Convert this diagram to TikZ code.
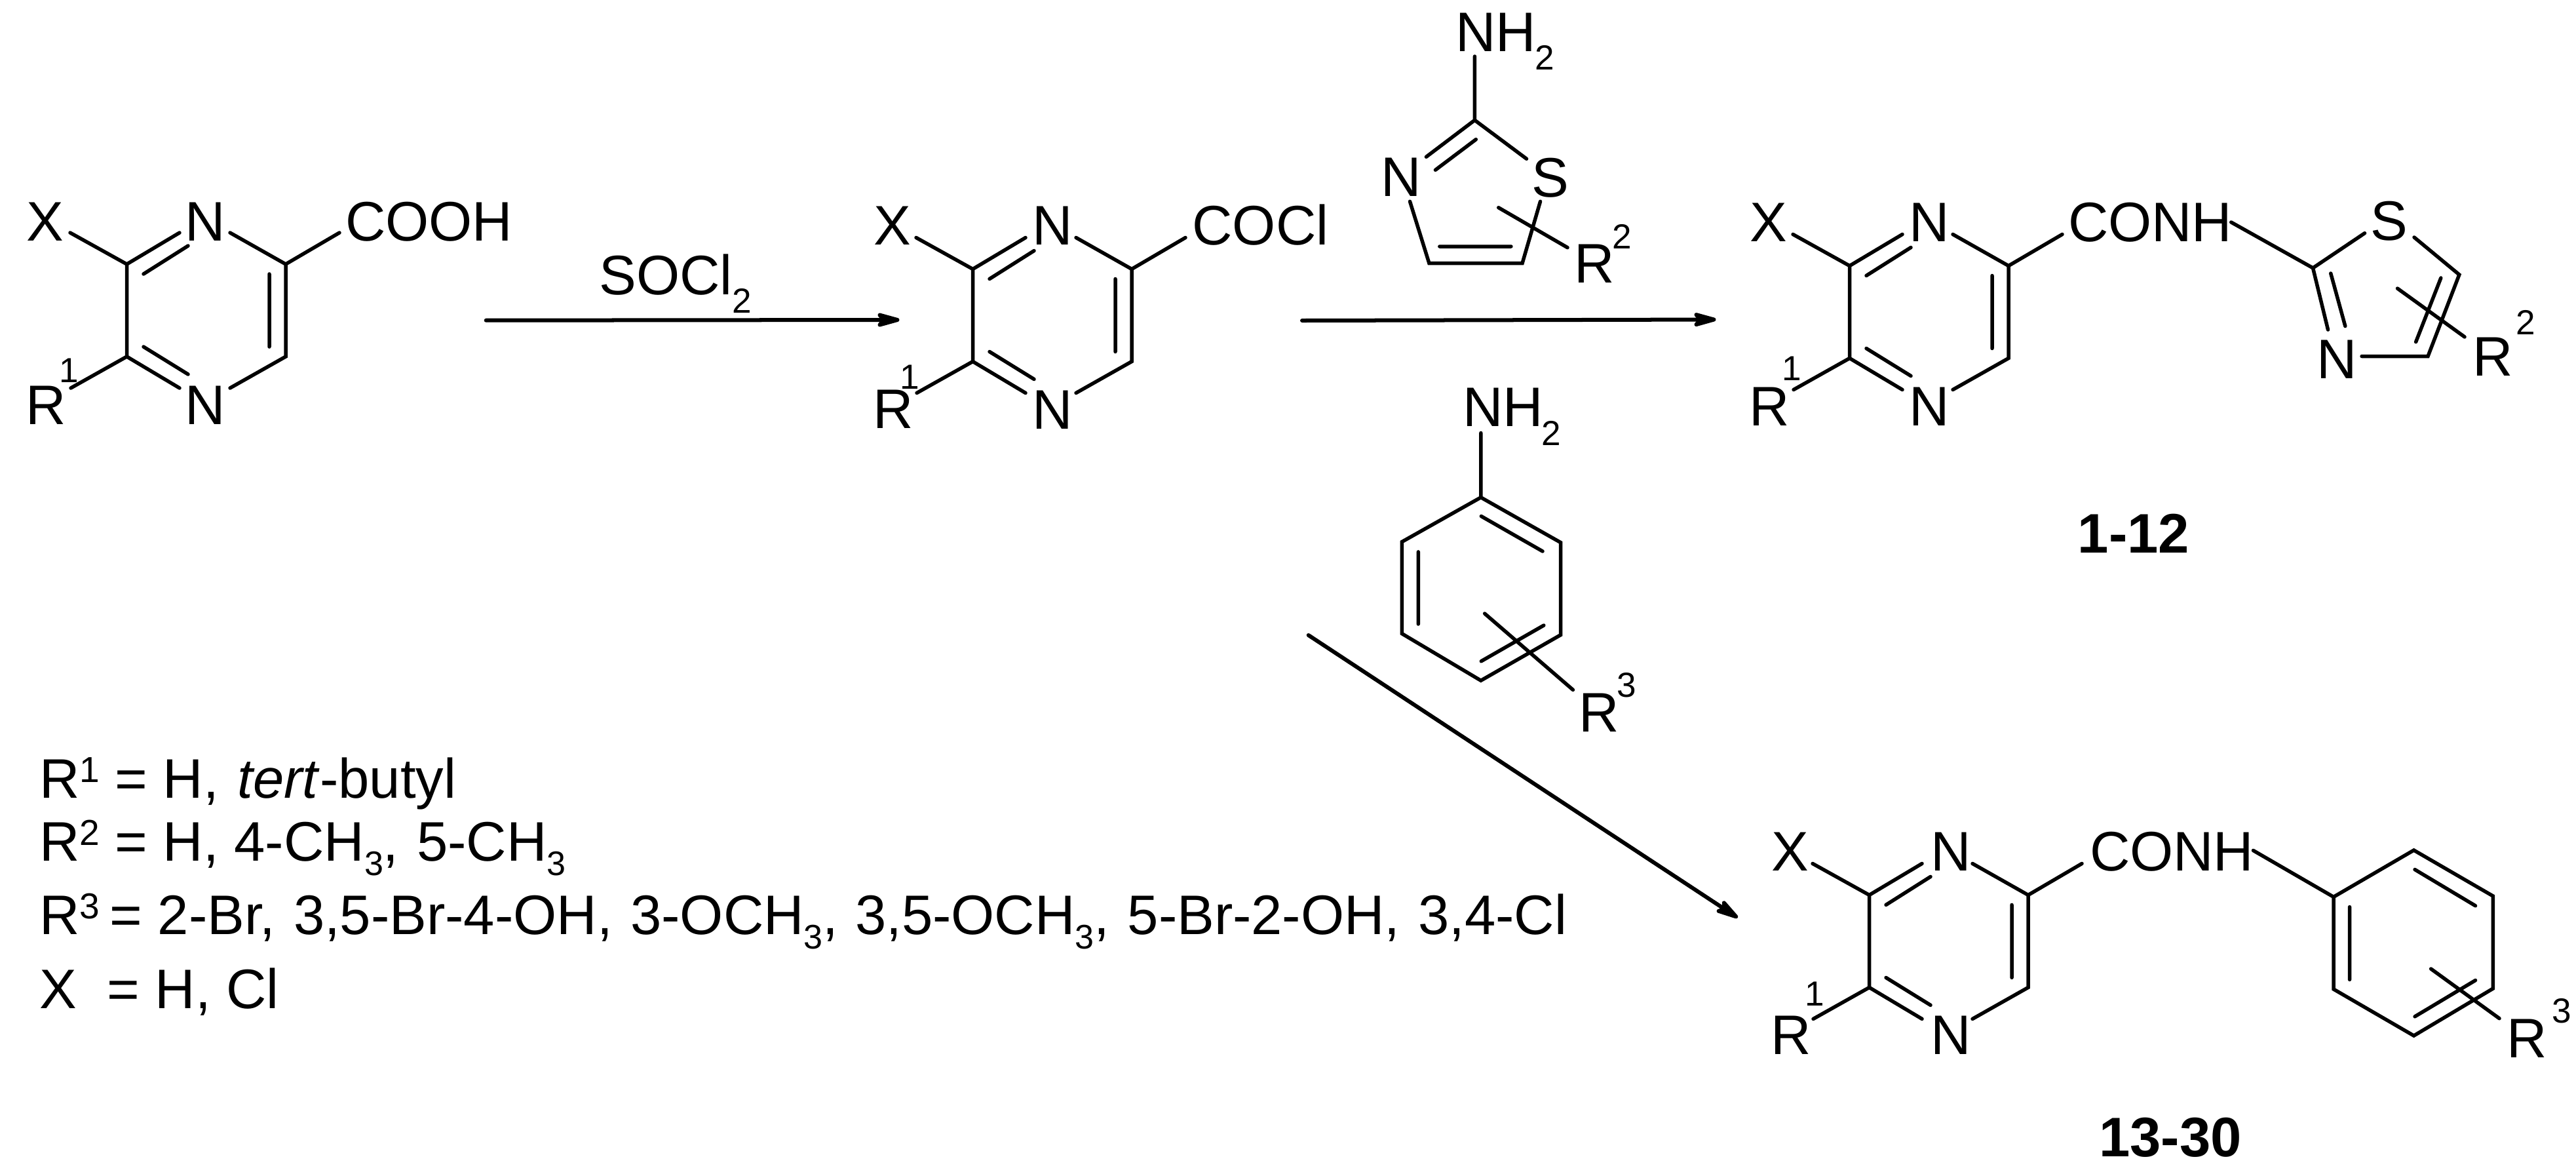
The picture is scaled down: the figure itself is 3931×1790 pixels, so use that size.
\documentclass[tikz,border=0pt]{standalone}
\usepackage{fontspec}
\setmainfont{Liberation Sans}
\usetikzlibrary{arrows.meta}
% sizes: 1 reference pixel = 0.01cm
\newcommand{\fmain}{\fontsize{24.18pt}{29pt}\selectfont}
\newcommand{\fsm}{\fontsize{15.1pt}{18pt}\selectfont}
\newcommand{\flegsup}{\fontsize{15.65pt}{18pt}\selectfont}
\newcommand{\flegsub}{\fontsize{14.8pt}{18pt}\selectfont}
\newcommand{\lsup}[1]{\raisebox{0.24cm}{\flegsup #1}}
\newcommand{\lsub}[1]{\raisebox{-0.22cm}{\flegsub #1}}
\tikzset{
  bond/.style={line width=0.055cm,line cap=round,line join=miter,black},
  rxn/.style={line width=0.06cm,line cap=round,black,-{Stealth[length=0.46cm,width=0.25cm,inset=0.1cm,round]}},
  lab/.style={inner sep=0pt,outer sep=0pt,font=\fmain,anchor=base},
  labw/.style={inner sep=0pt,outer sep=0pt,font=\fmain,anchor=base west},
  small/.style={inner sep=0pt,outer sep=0pt,font=\fsm,anchor=base west},
  cmpd/.style={inner sep=0pt,outer sep=0pt,font=\fmain\bfseries,anchor=base},
  legend/.style={inner sep=0pt,outer sep=0pt,font=\fmain,anchor=base west}
}
% pyrazine core: #1 name prefix, #2 shift x, #3 shift y
\newcommand{\pyrazinecore}[3]{%
  \begin{scope}[shift={(#2,#3)}]
    \coordinate (#1a) at (193.5,403);
    \coordinate (#1b) at (193.5,544);
    \coordinate (#1c) at (436,403);
    \coordinate (#1d) at (436,544);
    \coordinate (#1xe) at (107,355);
    \coordinate (#1re) at (108,592);
    \coordinate (#1nt) at (274,355);
    \coordinate (#1nb) at (274,592);
    \coordinate (#1mt) at (351,355);
    \coordinate (#1mb) at (351,592);
    \coordinate (#1se) at (518,355);
    \coordinate (#1i1) at (219,418);
    \coordinate (#1i2) at (287,375);
    \coordinate (#1i3) at (219,529);
    \coordinate (#1i4) at (287,571);
    \coordinate (#1i5) at (411,418);
    \coordinate (#1i6) at (411,529);
    \draw[bond] (#1xe)--(#1a)--(#1nt) (#1a)--(#1b)--(#1nb) (#1b)--(#1re)
      (#1mt)--(#1c)--(#1se) (#1c)--(#1d)--(#1mb)
      (#1i1)--(#1i2) (#1i3)--(#1i4) (#1i5)--(#1i6);
  \end{scope}}
\begin{document}
\begin{tikzpicture}[x=0.01cm,y=-0.01cm]
\fill[white] (0,0) rectangle (3931,1790);
\useasboundingbox (0,0) rectangle (3931,1790);

% ---------- compound A: acid
\pyrazinecore{A}{0}{0}
\node[lab] (Ax) at (69,367) {X};
\node[lab] (An) at (313,367) {N};
\node[lab] (Am) at (313,647) {N};
\node[labw] (Ar) at (39.5,647) {R};
\node[small] (Ar1) at (90,583) {1};
\node[labw] (Acooh) at (527,367) {COOH};

% ---------- compound B: acid chloride
\pyrazinecore{B}{1291}{7.5}
\node[lab] (Bx) at (1362,373) {X};
\node[lab] (Bn) at (1606.5,373) {N};
\node[lab] (Bm) at (1606.5,654) {N};
\node[labw] (Br) at (1332.5,653) {R};
\node[small] (Br1) at (1373,593) {1};
\node[labw] (Bcocl) at (1819.5,373) {COCl};

% ---------- compound C: thiazole amides 1-12
\pyrazinecore{C}{2629}{2.5}
\node[lab] (Cx) at (2698.5,368) {X};
\node[lab] (Cn) at (2944,368) {N};
\node[lab] (Cm) at (2944,649) {N};
\node[labw] (Cr) at (2669.5,649) {R};
\node[small] (Cr1) at (2719,580) {1};
\node[labw] (Cconh) at (3156,368) {CONH};
\node[lab] (Cs) at (3646,366) {S};
\node[lab] (Cn2) at (3566,577.5) {N};
\node[labw] (Cr2) at (3773.5,573.5) {R};
\node[small] (Cr22) at (3839.5,510) {2};
\node[cmpd] (Clabel) at (3256,843.7) {1-12};
\coordinate (C1) at (3404.7,339);
\coordinate (C2) at (3529.5,408.8);
\coordinate (C3) at (3608.5,355.7);
\coordinate (C4) at (3684,362);
\coordinate (C5) at (3752.8,419);
\coordinate (C6) at (3705,543.5);
\coordinate (C7) at (3604,543.5);
\coordinate (C8) at (3552.5,503);
\coordinate (C9) at (3556.7,417);
\coordinate (C10) at (3578.8,497.5);
\coordinate (C11) at (3724.8,424);
\coordinate (C12) at (3686.6,521.6);
\coordinate (C13) at (3658.5,440);
\coordinate (C14) at (3761,514);
\draw[bond] (C1)--(C2)--(C3) (C2)--(C8) (C4)--(C5)--(C6)--(C7)
  (C9)--(C10) (C11)--(C12) (C13)--(C14);

% ---------- compound D: anilides 13-30
\pyrazinecore{D}{2659}{962.4}
\node[lab] (Dx) at (2731.7,1328.3) {X};
\node[lab] (Dn) at (2976.8,1328.3) {N};
\node[lab] (Dm) at (2976.8,1608.2) {N};
\node[labw] (Dr) at (2702.5,1608) {R};
\node[small] (Dr1) at (2754,1534) {1};
\node[labw] (Dconh) at (3189,1328) {CONH};
\node[labw] (Dr3) at (3825.5,1613.3) {R};
\node[small] (Dr33) at (3894,1560) {3};
\node[cmpd] (Dlabel) at (3312,1764) {13-30};
\coordinate (D1) at (3438.4,1297.4);
\coordinate (D2) at (3561,1368.3);
\coordinate (D3) at (3683.5,1297);
\coordinate (D4) at (3804.4,1367);
\coordinate (D5) at (3804.4,1508);
\coordinate (D6) at (3683.5,1580);
\coordinate (D7) at (3561,1509);
\draw[bond] (D1)--(D2) (D2)--(D3)--(D4)--(D5)--(D6)--(D7)--cycle
  (3685,1326.5)--(3777.5,1381.8) (3585.5,1383.6)--(3585.5,1494.4)
  (3777.5,1495.5)--(3685,1550.8) (3709.6,1478)--(3814,1553.7);

% ---------- 2-aminothiazole reagent
\node[labw] (Tnh) at (2221,78.3) {NH};
\node[small] (Tnh2) at (2342.5,106.7) {2};
\node[lab] (Ts) at (2365.8,300) {S};
\node[lab] (Tn) at (2138,299.5) {N};
\node[labw] (Tr) at (2402.5,431.7) {R};
\node[small] (Tr2) at (2460,379) {2};
\coordinate (T1) at (2250.4,86);
\coordinate (T2) at (2250.4,183.3);
\coordinate (T3) at (2176.4,239.3);
\coordinate (T4) at (2329.5,242.3);
\coordinate (T5) at (2151.5,307.3);
\coordinate (T6) at (2180.9,401.7);
\coordinate (T7) at (2323,401.7);
\coordinate (T8) at (2350.5,307.3);
\draw[bond] (T1)--(T2) (T3)--(T2)--(T4) (T5)--(T6)--(T7)--(T8)
  (2252.3,212.7)--(2190.4,259.3) (2196.8,376)--(2305.9,376)
  (2286.7,316.7)--(2392,377.7);

% ---------- aniline reagent
\node[labw] (Hnh) at (2232.3,650.9) {NH};
\node[small] (Hnh2) at (2352,679.6) {2};
\node[labw] (Hr) at (2409.5,1116.6) {R};
\node[small] (Hr3) at (2467.5,1063) {3};
\coordinate (H0) at (2259.8,660.5);
\coordinate (H1) at (2259.8,758.8);
\coordinate (H2) at (2381.7,827.7);
\coordinate (H3) at (2381.7,968.5);
\coordinate (H4) at (2259.8,1038.2);
\coordinate (H5) at (2139.3,966.6);
\coordinate (H6) at (2139.3,826.6);
\draw[bond] (H0)--(H1) (H1)--(H2)--(H3)--(H4)--(H5)--(H6)--cycle
  (2260.3,787.5)--(2354,841) (2164.3,841.9)--(2164.3,952)
  (2355.8,954)--(2260.3,1008.7) (2265.6,936)--(2400.4,1052.4);

% ---------- reaction arrows
\coordinate (r1s) at (741.7,488.7);
\coordinate (r1e) at (1372.4,488);
\coordinate (r2s) at (1987,489);
\coordinate (r2e) at (2618.4,487.5);
\coordinate (r3s) at (1996.7,969);
\coordinate (r3e) at (2651.7,1400);
\draw[rxn] (r1s)--(r1e);
\draw[rxn] (r2s)--(r2e);
\draw[rxn] (r3s)--(r3e);
\node[labw] (soclt) at (914.5,449) {SOCl};
\node[small] (socl2) at (1117.5,477) {2};

% ---------- legend
\node[legend] (L1) at (60,1217.7) {R\lsup{1} = H, \hspace{0.05cm}\textit{tert}-butyl};
\node[legend] (L2) at (60,1313.3) {R\lsup{2} = H, 4-CH\lsub{3}, \hspace{0.04cm}5-CH\lsub{3}};
\node[legend] (L3) at (60,1425.7) {R\lsup{3}\hspace{-0.08cm} = 2-Br, \hspace{0.04cm}3,5-Br-4-OH, \hspace{0.04cm}3-OCH\lsub{3}, \hspace{0.02cm}3,5-OCH\lsub{3}, \hspace{0.04cm}5-Br-2-OH, \hspace{0.04cm}3,4-Cl};
\node[legend] (L4) at (60,1538.3) {X \hspace{0.23cm}= H, Cl};
\end{tikzpicture}
\end{document}
